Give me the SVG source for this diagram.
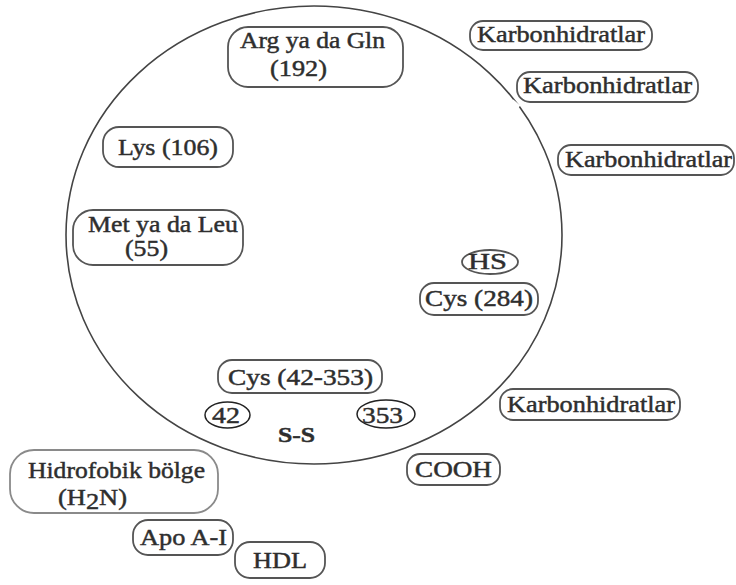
<svg xmlns="http://www.w3.org/2000/svg" width="736" height="585" viewBox="0 0 736 585">
<style>
.bx{fill:none;stroke:#555;stroke-width:1.8}
.lt{stroke:#8a8a8a}
.t{font-size:23px;fill:#2e2e2e;stroke:#2e2e2e;stroke-width:0.45;text-anchor:middle}
.b{font-weight:bold}
</style>
<rect width="736" height="585" fill="#fff"/>
<g id="connectors">
<ellipse cx="314" cy="235" rx="248" ry="229" fill="none" stroke="#444" stroke-width="1.6"/>
<line x1="512" y1="101" x2="519" y2="107" stroke="#fff" stroke-width="4"/>
</g>
<g id="nodes" font-family="Liberation Serif, DejaVu Serif, serif">
<g id="arg"><rect class="bx" x="228" y="27" width="175" height="60" rx="20"/>
<text class="t" x="312.5" y="48" textLength="145" lengthAdjust="spacingAndGlyphs">Arg ya da Gln</text>
<text class="t" x="298.5" y="76" textLength="57" lengthAdjust="spacingAndGlyphs">(192)</text></g>
<g id="k1"><rect class="bx" x="470" y="21" width="182" height="29" rx="13"/>
<text class="t" x="561" y="42" textLength="168" lengthAdjust="spacingAndGlyphs">Karbonhidratlar</text></g>
<g id="k2"><rect class="bx" x="517" y="72" width="181" height="30" rx="13"/>
<text class="t" x="607.5" y="93" textLength="169" lengthAdjust="spacingAndGlyphs">Karbonhidratlar</text></g>
<g id="k3"><rect class="bx" x="558" y="145" width="176" height="30" rx="13"/>
<text class="t" x="648.5" y="167" textLength="167" lengthAdjust="spacingAndGlyphs">Karbonhidratlar</text></g>
<g id="k4"><rect class="bx" x="500" y="389" width="180" height="31" rx="13"/>
<text class="t" x="591" y="412" textLength="168" lengthAdjust="spacingAndGlyphs">Karbonhidratlar</text></g>
<g id="cooh"><rect class="bx" x="407" y="454" width="93" height="31" rx="13"/>
<text class="t" x="453.5" y="477" textLength="77" lengthAdjust="spacingAndGlyphs">COOH</text></g>
<g id="lys"><rect class="bx" x="103" y="127" width="130" height="40" rx="16"/>
<text class="t" x="168" y="155" textLength="100" lengthAdjust="spacingAndGlyphs">Lys (106)</text></g>
<g id="met"><rect class="bx" x="73" y="210" width="170" height="55" rx="20"/>
<text class="t" x="163" y="232" textLength="150" lengthAdjust="spacingAndGlyphs">Met ya da Leu</text>
<text class="t" x="146.5" y="256" textLength="43" lengthAdjust="spacingAndGlyphs">(55)</text></g>
<g id="hs"><ellipse class="bx" cx="490" cy="262" rx="28" ry="12"/>
<text class="t" x="487.5" y="269" textLength="39" lengthAdjust="spacingAndGlyphs">HS</text></g>
<g id="cys284"><rect class="bx" x="420" y="283" width="118" height="32" rx="14"/>
<text class="t" x="479" y="306" textLength="108" lengthAdjust="spacingAndGlyphs">Cys (284)</text></g>
<g id="cys42"><rect class="bx" x="218" y="360" width="164" height="33" rx="14"/>
<text class="t" x="300.5" y="385" textLength="145" lengthAdjust="spacingAndGlyphs">Cys (42-353)</text></g>
<g id="n42"><ellipse cx="227.5" cy="415" rx="22.5" ry="13" fill="none" stroke="#222" stroke-width="1.5"/>
<text class="t" x="226" y="423" textLength="28" lengthAdjust="spacingAndGlyphs">42</text></g>
<g id="n353"><ellipse cx="386" cy="414" rx="29" ry="14" fill="none" stroke="#222" stroke-width="1.5"/>
<text class="t" x="382.5" y="423" textLength="41" lengthAdjust="spacingAndGlyphs">353</text></g>
<g id="ss"><text class="t b" x="296.5" y="442" textLength="37" lengthAdjust="spacingAndGlyphs" style="font-size:20px">S-S</text></g>
<g id="hidro"><rect class="bx lt" x="10" y="450" width="208" height="63" rx="24"/>
<text class="t" x="116.5" y="478" textLength="177" lengthAdjust="spacingAndGlyphs">Hidrofobik bölge</text>
<text class="t" x="58" y="505" style="text-anchor:start" textLength="69" lengthAdjust="spacingAndGlyphs">(H<tspan dy="4">2</tspan><tspan dy="-4">N)</tspan></text></g>
<g id="apo"><rect class="bx" x="133" y="520" width="100" height="35" rx="15"/>
<text class="t" x="183.5" y="545" textLength="87" lengthAdjust="spacingAndGlyphs">Apo A-I</text></g>
<g id="hdl"><rect class="bx" x="235" y="542" width="90" height="36" rx="15"/>
<text class="t" x="280" y="568" textLength="54" lengthAdjust="spacingAndGlyphs">HDL</text></g>
</g>
</svg>
